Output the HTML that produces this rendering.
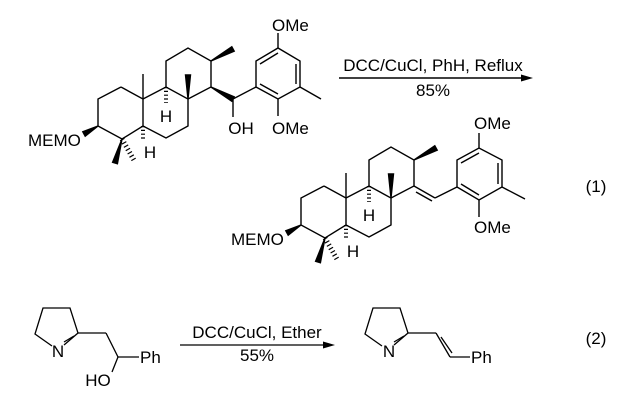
<!DOCTYPE html>
<html><head><meta charset="utf-8"><style>html,body{margin:0;padding:0;background:#fff}svg{display:block}text{font-family:"Liberation Sans",sans-serif;font-size:17px;fill:#000}</style></head><body>
<svg width="622" height="402" viewBox="0 0 622 402" xmlns="http://www.w3.org/2000/svg">
<defs>
<g id="core" stroke="#000" stroke-width="1.4" fill="none">
<polyline points="121,87 98,99 98,126 122,139 143,126 143,99 121,87"/>
<polyline points="143,99 166,87 188,99 188,126 166,138 143,126"/>
<polyline points="166,87 166,61 188,48 211,61 211,87 188,99"/>
<line x1="143" y1="99" x2="143" y2="74"/>
<polygon points="98,126 85.2,136.2 82.8,131.8" fill="#000"/>
<polygon points="122,139 117.4,163.7 112.6,162.3" fill="#000"/>
<line x1="122" y1="139" x2="135" y2="162" stroke-width="5" stroke-dasharray="1.2,2.6"/>
<line x1="143" y1="126" x2="143" y2="141" stroke-width="4" stroke-dasharray="1.2,2.6"/>
<line x1="166" y1="87" x2="166" y2="103" stroke-width="4" stroke-dasharray="1.2,2.6"/>
<polygon points="188,99 185.5,75 190.5,75" fill="#000"/>
<polygon points="211,61 234.2,51.2 231.8,46.8" fill="#000"/>
</g>
</defs>
<use href="#core"/>
<g stroke="#000" stroke-width="1.4" fill="none">
<polygon points="211,87 231.8,101.2 234.2,96.8" fill="#000"/>
<line x1="233" y1="99" x2="256" y2="87"/>
<line x1="233" y1="99" x2="233" y2="117"/>
<polyline points="256,87 256,61 278,48 300,61 300,87 278,99 256,87"/>
<line x1="260" y1="64" x2="278" y2="53"/>
<line x1="296" y1="64" x2="296" y2="84"/>
<line x1="278" y1="94" x2="260" y2="84"/>
<line x1="278" y1="48" x2="278" y2="33"/>
<line x1="278" y1="99" x2="278" y2="116"/>
<line x1="300" y1="87" x2="321" y2="99"/>
</g>
<text x="28" y="146">MEMO</text>
<text x="166" y="122" text-anchor="middle">H</text>
<text x="150" y="158" text-anchor="middle">H</text>
<text x="241" y="134" text-anchor="middle">OH</text>
<text x="272" y="31">OMe</text>
<text x="272" y="134">OMe</text>
<line x1="339" y1="78" x2="527" y2="78" stroke="#000" stroke-width="1.4"/>
<polygon points="533,78 521,74.5 521,81.5" fill="#000"/>
<text x="433" y="71" text-anchor="middle">DCC/CuCl, PhH, Reflux</text>
<text x="433" y="96" text-anchor="middle">85%</text>
<use href="#core" transform="translate(203,99)"/>
<g stroke="#000" stroke-width="1.4" fill="none">
<line x1="414" y1="186" x2="435" y2="198"/>
<line x1="416" y1="192" x2="432" y2="201"/>
<line x1="435" y1="198" x2="457" y2="187"/>
<polyline points="457,187 457,160 479,148 502,160 502,187 479,200 457,187"/>
<line x1="461" y1="163" x2="479" y2="153"/>
<line x1="498" y1="163" x2="498" y2="184"/>
<line x1="479" y1="195" x2="461" y2="184"/>
<line x1="479" y1="148" x2="479" y2="133"/>
<line x1="479" y1="200" x2="479" y2="217"/>
<line x1="502" y1="187" x2="525" y2="199"/>
</g>
<text x="231" y="245">MEMO</text>
<text x="369" y="221" text-anchor="middle">H</text>
<text x="353" y="257" text-anchor="middle">H</text>
<text x="474" y="129">OMe</text>
<text x="474" y="233">OMe</text>
<text x="596" y="192" text-anchor="middle">(1)</text>
<g stroke="#000" stroke-width="1.3" fill="none">
<polyline points="52,346 35,334 43,308 70,308 78,333 64,345"/>
<line x1="74" y1="336" x2="64" y2="342"/>
<line x1="78" y1="333" x2="106" y2="333"/>
<line x1="106" y1="333" x2="118" y2="357"/>
<line x1="118" y1="357" x2="139" y2="357"/>
<line x1="118" y1="357" x2="112" y2="372"/>
<polyline points="382,346 365,334 373,308 400,308 408,333 394,345"/>
<line x1="404" y1="336" x2="394" y2="342"/>
<line x1="408" y1="333" x2="436" y2="333"/>
<line x1="436" y1="333" x2="450" y2="357"/>
<line x1="441" y1="337" x2="452" y2="353"/>
<line x1="450" y1="357" x2="470" y2="357"/>
<line x1="180" y1="345" x2="329" y2="345"/>
</g>
<polygon points="335,345 323,341.5 323,348.5" fill="#000"/>
<text x="58" y="357" text-anchor="middle">N</text>
<text x="140" y="363">Ph</text>
<text x="98" y="386" text-anchor="middle">HO</text>
<text x="389" y="357" text-anchor="middle">N</text>
<text x="471" y="363">Ph</text>
<text x="257" y="338" text-anchor="middle">DCC/CuCl, Ether</text>
<text x="257" y="361" text-anchor="middle">55%</text>
<text x="596" y="344" text-anchor="middle">(2)</text>
</svg>
</body></html>
